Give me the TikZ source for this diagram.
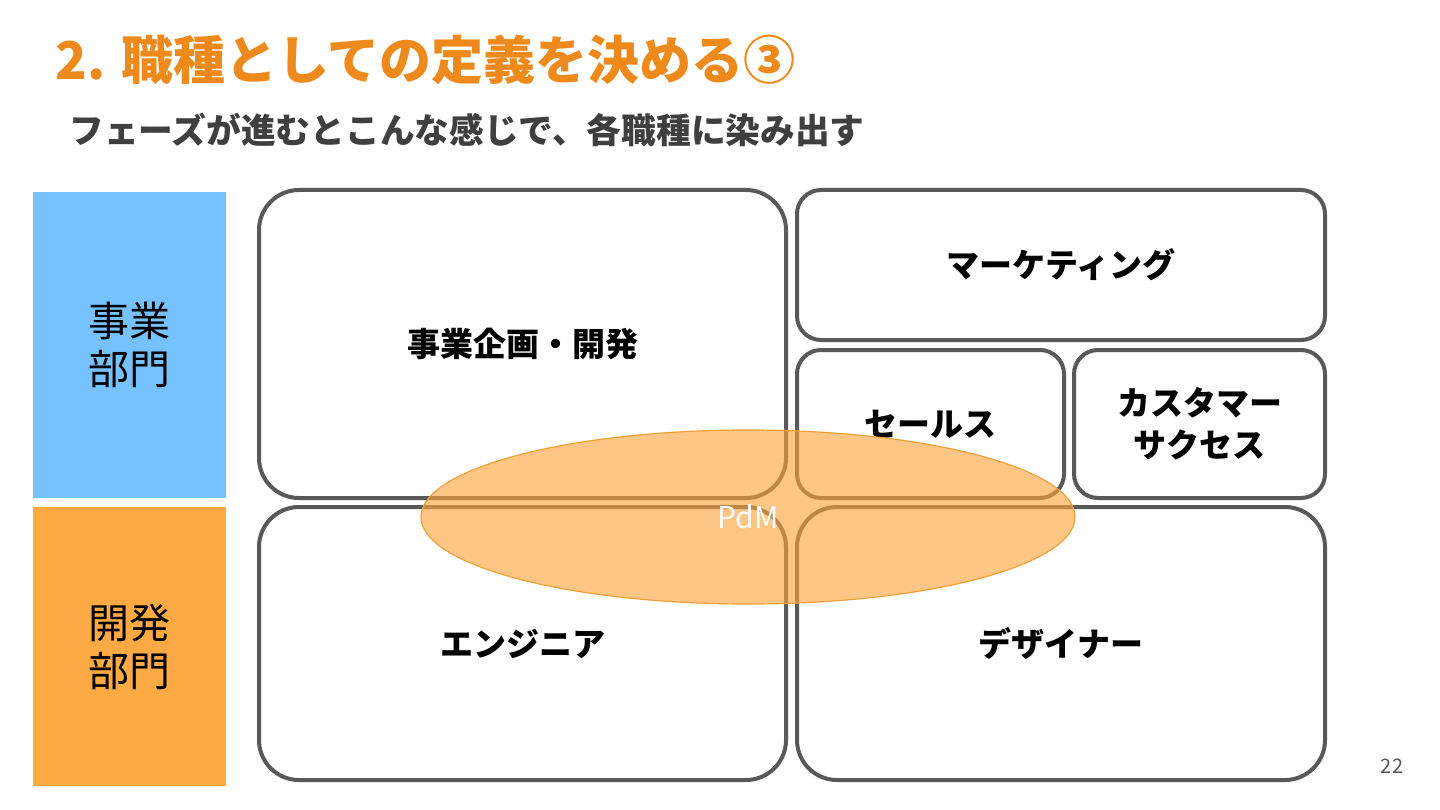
\documentclass[tikz,border=0pt]{standalone}
\usepackage{fontspec}
\usepackage{tikz}
\usetikzlibrary{positioning, shapes.geometric}
\newfontfamily\jpfont{Noto Sans CJK JP}
\definecolor{titleorange}{HTML}{EE8A1C}
\definecolor{subgray}{HTML}{3F3F3F}
\definecolor{deptblue}{HTML}{75C2FF}
\definecolor{deptorange}{HTML}{FDAA45}
\definecolor{boxgray}{HTML}{595959}
\definecolor{pdmfill}{HTML}{FDA43A}
\definecolor{pdmline}{HTML}{F2A03A}

\begin{document}
\begin{tikzpicture}[
        x=1pt, y=-1pt,
        every node/.style = {font=\jpfont},
        dept/.style  = {minimum width=193pt, inner sep=0, align=center, font=\jpfont\fontsize{41}{48}\selectfont},
        role/.style  = {draw=boxgray, line width=4pt, fill=white, inner sep=0, align=center, font=\jpfont\bfseries\fontsize{33}{42}\selectfont},
        bigrole/.style = {role, rounded corners=40pt},
        smallrole/.style = {role, rounded corners=24pt},
        pdm/.style = {ellipse, draw=pdmline, line width=1.2pt, fill=pdmfill, fill opacity=0.62, text opacity=1, minimum width=654pt, minimum height=174pt, inner sep=0},
    ]
        \useasboundingbox[fill=white] (0,0) rectangle (1440,810);
        % heading
        \node[anchor=west, text=titleorange, font=\jpfont\bfseries\fontsize{52}{60}\selectfont] (title) at (52,60) {2. 職種としての定義を決める③};
        \node[anchor=west, text=subgray, font=\jpfont\bfseries\fontsize{34.7}{42}\selectfont] (subtitle) at (66,130) {フェーズが進むとこんな感じで、各職種に染み出す};
        % departments
        \node[dept, fill=deptblue, minimum height=306pt] (bizdept) at (129.5,345) {事業\\部門};
        \node[dept, fill=deptorange, minimum height=279pt] (devdept) at (129.5,646.5) {開発\\部門};
        % roles
        \node[bigrole, minimum width=527pt, minimum height=308pt] (planning) at (522.5,344) {事業企画・開発};
        \node[smallrole, minimum width=528pt, minimum height=150pt] (marketing) at (1061,265) {マーケティング};
        \node[smallrole, minimum width=267pt, minimum height=148pt] (sales) at (930.5,424) {セールス};
        \node[smallrole, minimum width=251pt, minimum height=148pt] (success) at (1199.5,424) {カスタマー\\サクセス};
        \node[bigrole, minimum width=527pt, minimum height=273pt] (engineer) at (522.5,643.5) {エンジニア};
        \node[bigrole, minimum width=528pt, minimum height=273pt] (designer) at (1061,643.5) {デザイナー};
        % overlap
        \node[pdm, text=white, font=\jpfont\fontsize{30}{36}\selectfont] (pdmarea) at (748,517) {PdM};
        \node[text=boxgray, font=\jpfont\fontsize{20}{24}\selectfont] (pagenum) at (1392,766) {22};
    \end{tikzpicture}
\end{document}
